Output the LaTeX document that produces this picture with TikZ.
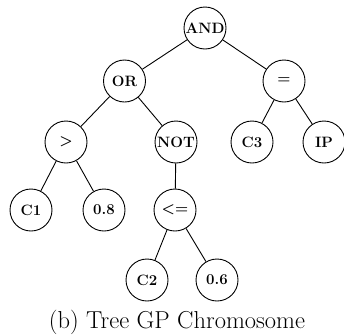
\documentclass[tikz,border=0pt]{standalone}
\begin{document}
\begin{tikzpicture}[x=1pt,y=-1pt,
  tn/.style={circle,draw,line width=0.9pt,minimum size=42pt,inner sep=0pt,font=\fontsize{15}{17}\selectfont\bfseries},
  edge/.style={line width=0.9pt}]
\useasboundingbox (0,0) rectangle (344,335);
\node[tn] (and) at (205,28) {AND};
\node[tn] (or) at (124.5,81) {OR};
\node[tn] (eq) at (284,81) {=};
\node[tn] (gt) at (66,142) {>};
\node[tn] (not) at (176,142) {NOT};
\node[tn] (c3) at (252,142) {C3};
\node[tn] (ip) at (324,142) {IP};
\node[tn] (c1) at (31,210) {C1};
\node[tn] (v08) at (104,210) {0.8};
\node[tn] (le) at (175,210) {<=};
\node[tn] (c2) at (147,280) {C2};
\node[tn] (v06) at (217,280) {0.6};
\draw[edge] (and) -- (or);
\draw[edge] (and) -- (eq);
\draw[edge] (or) -- (gt);
\draw[edge] (or) -- (not);
\draw[edge] (eq) -- (c3);
\draw[edge] (eq) -- (ip);
\draw[edge] (gt) -- (c1);
\draw[edge] (gt) -- (v08);
\draw[edge] (not) -- (le);
\draw[edge] (le) -- (c2);
\draw[edge] (le) -- (v06);
\node[font=\fontsize{24.5}{28}\selectfont] (cap) at (177,322) {(b) Tree GP Chromosome};
\end{tikzpicture}
\end{document}
